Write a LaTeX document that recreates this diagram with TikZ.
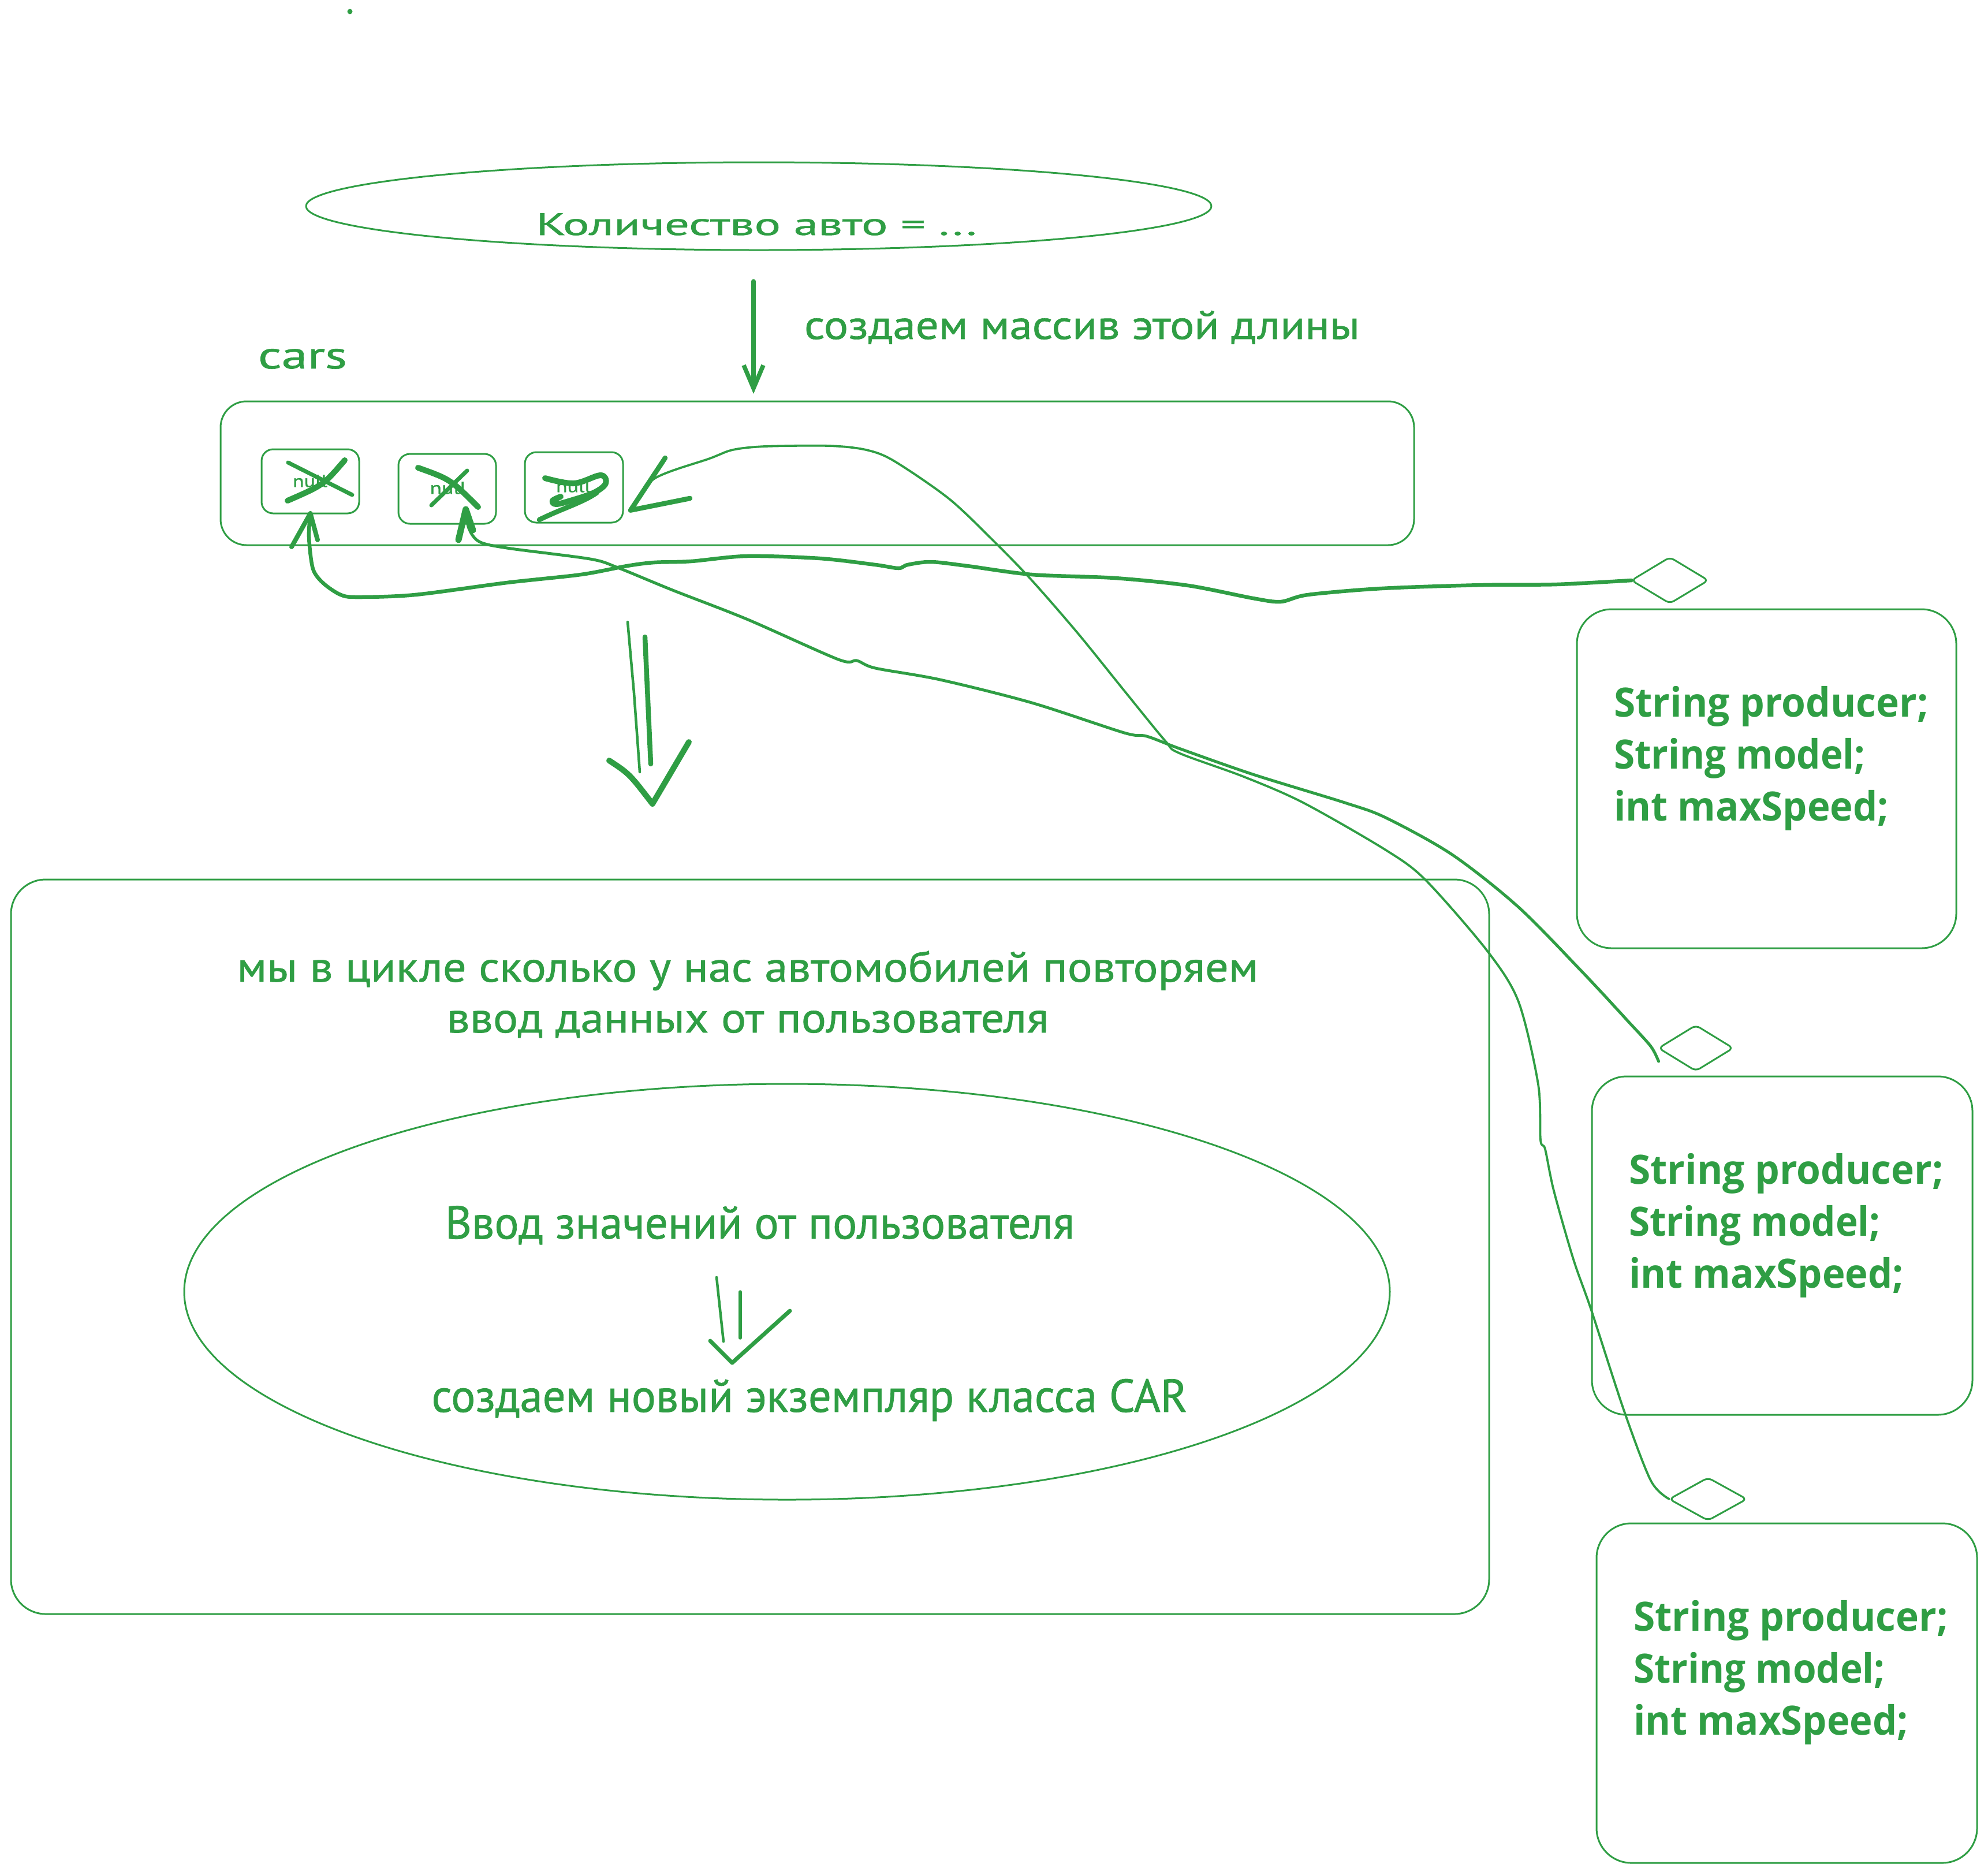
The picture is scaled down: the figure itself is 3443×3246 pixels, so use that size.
\documentclass[tikz,border=0pt]{standalone}
\usepackage{graphicx}
\usepackage{fontspec}
\setmainfont{PT Sans}[FakeBold=0.9]
\newfontfamily\codefont{Open Sans}
\usetikzlibrary{shapes.geometric,arrows.meta}
\definecolor{exg}{RGB}{47,158,68}
\newcommand\fitto[2]{\resizebox{#1}{\height}{#2}}
\begin{document}
\begin{tikzpicture}[x=0.1mm,y=-0.1mm,
  ln/.style={draw=exg,line width=0.3mm,line cap=round,line join=round},
  rbox/.style={ln,rectangle,rounded corners=#1,inner sep=0pt,outer sep=0pt},
  dia/.style={ln,diamond,inner sep=0pt,outer sep=0pt,rounded corners=0.8mm},
  oval/.style={ln,ellipse,inner sep=0pt,outer sep=0pt},
  txt/.style={text=exg,inner sep=0pt,outer sep=0pt},
  code/.style={txt,anchor=base west,font=\codefont\bfseries\fontsize{19.9pt}{24pt}\selectfont},
  cross/.style={ln,line width=1mm},
  thick/.style={ln,line width=0.65mm},
]
\useasboundingbox (0,0) rectangle (3443,3246);

% stray dot
\node[circle,fill=exg,minimum size=0.9mm,inner sep=0pt] (dot) at (606,20) {};

% top ellipse and its text
\node[oval,minimum width=156.8mm,minimum height=15.2mm] (count) at (1314,357) {};
\node[txt,anchor=base,font=\fontsize{15.4pt}{18pt}\selectfont] (tcount) at (1310,407) {\fitto{76.3mm}{Количество авто = ...}};

% array box
\node[rbox=4.5mm,minimum width=206.7mm,minimum height=24.9mm] (arr) at (1415.5,819.5) {};
\node[txt,anchor=base west,font=\fontsize{18.8pt}{22pt}\selectfont] (tcars) at (447,638) {\fitto{15.4mm}{cars}};
\node[txt,anchor=base west,font=\fontsize{19.9pt}{24pt}\selectfont] (tarr) at (1393,587) {\fitto{96.2mm}{создаем массив этой длины}};

\draw[ln,line width=0.75mm,-{Straight Barb[length=4mm,width=3.4mm]},shorten >=1.3mm]
  ([xshift=-0.9mm,yshift=-5.4mm]count.south) -- ([xshift=-0.9mm]count.south |- arr.north);

% cells
\node[rbox=2mm,minimum width=16.9mm,minimum height=11.1mm] (c1) at (537.5,833.5) {};
\node[rbox=2mm,minimum width=16.9mm,minimum height=12.1mm] (c2) at (774.5,846.5) {};
\node[rbox=2mm,minimum width=17mm,minimum height=12.2mm] (c3) at (994,844) {};
\node[txt,font=\fontsize{8.5pt}{10pt}\selectfont] (n1) at (537,833) {\fitto{6mm}{null}};
\node[txt,font=\fontsize{8.5pt}{10pt}\selectfont] (n2) at (776,845) {\fitto{6.3mm}{null}};
\node[txt,font=\fontsize{8.5pt}{10pt}\selectfont] (n3) at (993,842) {\fitto{6mm}{null}};

% crossings-out
\draw[cross,line width=0.7mm] (499,801) -- (610,857);
\draw[cross] (597,797) .. controls (560,840) .. (498,867);
\draw[cross] (724,810) .. controls (780,830) .. (828,878);
\draw[cross,line width=0.7mm] (809,815) -- (747,875);
\draw[cross] plot[smooth,tension=0.6] coordinates {(944,828) (994,837) (1040,823) (1049,837) (1029,853) (988,867) (963,873) (957,867) (971,860)};
\draw[cross,line width=0.85mm] (934,900) .. controls (975,880) and (1010,870) .. (1034,853);

% double arrow to loop box
\draw[ln,line width=0.45mm] (1087,1077) -- (1098,1200) -- (1108,1337);
\draw[ln,line width=0.85mm] (1117,1103) -- (1127,1323);
\draw[ln,line width=1mm] (1055,1317) .. controls (1090,1340) .. (1130,1392) -- (1193,1285);

% loop box
\node[rbox=6mm,minimum width=256mm,minimum height=127.2mm] (loop) at (1299,2159) {};
\node[txt,anchor=base,font=\fontsize{21pt}{25pt}\selectfont] (tl1) at (1295,1700) {\fitto{176.9mm}{мы в цикле сколько у нас автомобилей повторяем}};
\node[txt,anchor=base,font=\fontsize{21pt}{25pt}\selectfont] (tl2) at (1295,1788) {\fitto{104.3mm}{ввод данных от пользователя}};

% inner ellipse
\node[oval,minimum width=208.8mm,minimum height=72mm] (inner) at (1363,2237) {};
\node[txt,anchor=base,font=\fontsize{22.8pt}{27pt}\selectfont] (ti1) at (1316,2145) {\fitto{109mm}{Ввод значений от пользователя}};
\node[txt,anchor=base,font=\fontsize{22.8pt}{27pt}\selectfont] (ti2) at (1402,2445) {\fitto{130.9mm}{создаем новый экземпляр класса CAR}};
\draw[ln,line width=0.45mm] (1241,2212) -- (1253,2323);
\draw[ln,line width=0.55mm] (1282,2237) -- (1282,2317);
\draw[ln,line width=0.7mm] (1230,2322) -- (1268,2360) -- (1368,2270);

% class boxes
\node[rbox=6mm,minimum width=65.7mm,minimum height=58.7mm] (A) at (3059.5,1348.5) {};
\node[rbox=6mm,minimum width=65.9mm,minimum height=58.6mm] (B) at (3086.5,2157) {};
\node[rbox=6mm,minimum width=65.9mm,minimum height=58.8mm] (C) at (3094.5,2932) {};
\node[dia,minimum width=13.3mm,minimum height=8mm] (d1) at (2892,1005) {};
\node[dia,minimum width=12.9mm,minimum height=7.9mm] (d2) at (2937,1815) {};
\node[dia,minimum width=13.4mm,minimum height=7.4mm] (d3) at (2958,2596) {};
\foreach \b in {A,B,C}{
  \node[code] (\b1) at ([shift={(64,186)}]\b.north west) {\fitto{54.5mm}{String producer;}};
  \node[code] (\b2) at ([shift={(64,276)}]\b.north west) {\fitto{43.6mm}{String model;}};
  \node[code] (\b3) at ([shift={(64,366)}]\b.north west) {\fitto{47.6mm}{int maxSpeed;}};
}

% connectors
\draw[thick] plot[smooth,tension=0.5] coordinates {(d1.west) (2696,1012) (2568,1013) (2393,1019) (2265,1030) (2218,1042) (2170,1036) (2058,1014) (1931,1001) (1787,995) (1675,980) (1612,973) (1572,978) (1556,984) (1516,978) (1420,967) (1293,963) (1197,972) (1133,974) (1086,980) (1006,995) (878,1009) (719,1030) (620,1034) (590,1030) (560,1010) (542,985) (535,930) (c1.south)};
\draw[ln,line width=0.8mm] (505,947) -- (c1.south) -- (550,935);

\draw[ln,line width=0.5mm] plot[smooth,tension=0.5] coordinates {([yshift=-2.3mm]d2.west) (2859,1812) (2821,1770) (2744,1687) (2630,1571) (2515,1480) (2400,1416) (2329,1390) (2170,1341) (2042,1296) (1986,1275) (1947,1269) (1787,1217) (1628,1177) (1516,1157) (1484,1144) (1452,1142) (1293,1072) (1165,1022) (1070,983) (1022,968) (878,949) (830,938) (812,915) ([yshift=2.5mm]c2.-62)};
\draw[ln,line width=1.1mm] (794,935) -- ([yshift=2.5mm]c2.-62) -- (819,918);

\draw[ln,line width=0.38mm] plot[smooth,tension=0.5] coordinates {(d3.west) (2859,2564) (2813,2444) (2756,2269) (2725,2181) (2691,2062) (2676,1990) (2668,1974) (2664,1878) (2630,1735) (2576,1647) (2469,1524) (2400,1472) (2257,1390) (2154,1345) (2042,1304) (2018,1283) (1947,1196) (1867,1097) (1787,1005) (1723,939) (1644,864) (1548,798) (1500,779) (1436,772) (1325,773) (1269,779) (1229,794) (1133,829) ([xshift=1.3mm]c3.-25)};
\draw[ln,line width=0.85mm] (1152,793) -- ([xshift=1.3mm]c3.-25) -- (1195,863);
\end{tikzpicture}
\end{document}
